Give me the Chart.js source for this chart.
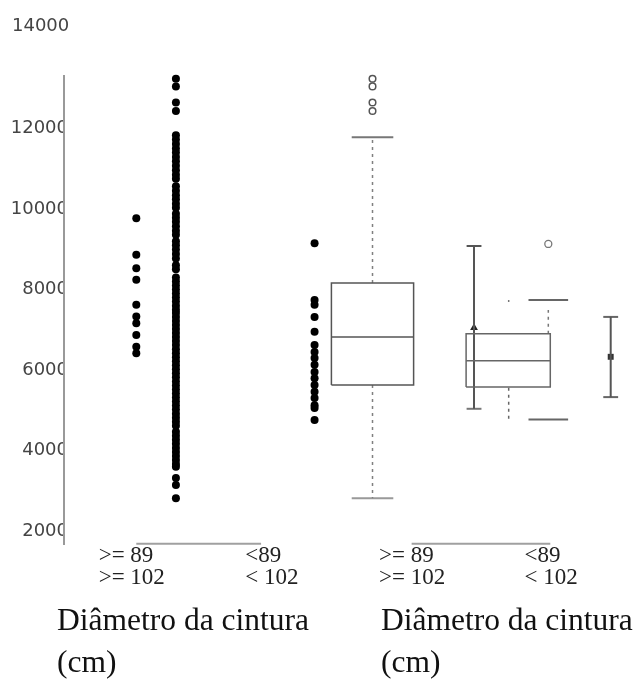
<!DOCTYPE html>
<html>
<head>
<meta charset="utf-8">
<script src="https://cdn.jsdelivr.net/npm/chart.js@4.4.0/dist/chart.umd.min.js"></script>
<style>
  html, body { margin: 0; padding: 0; background: #fff; }
  #wrap { width: 637px; height: 682px; position: relative; }
</style>
</head>
<body>
<div id="wrap"><canvas id="boxChart"></canvas></div>
<script>
// Axis text
const yTicks = [2000, 4000, 6000, 8000, 10000, 12000];
const topTickLabel = '14000';
const groupLabels = [['>= 89', '>= 102'], ['<89', '< 102'], ['>= 89', '>= 102'], ['<89', '< 102']];
const axisTitle = ['Diâmetro da cintura', '(cm)'];

// Left panel: raw values as dot strips
const stripA = [9770, 8860, 8530, 8240, 7620, 7330, 7160, 6870, 6580, 6420];
const stripB = [
  13230, 13040, 12640, 12430,
  11830, 11720, 11610, 11500, 11400, 11290, 11180, 11070, 10960, 10850, 10750,
  10560, 10450, 10340, 10240, 10130, 10030,
  9880, 9780, 9680, 9570, 9460, 9360,
  9200, 9100, 8990, 8880, 8770,
  8600, 8500,
  8300, 8200, 8100, 8000, 7900, 7800, 7700, 7600, 7500,
  7420, 7320, 7220, 7120, 7020, 6920, 6820, 6720, 6620, 6520, 6420, 6320,
  6220, 6120, 6020, 5920, 5820, 5720, 5620, 5520, 5420, 5320, 5220, 5120,
  5020, 4920, 4820, 4720, 4620,
  4470, 4370, 4270, 4170, 4070, 3970, 3870, 3770, 3670, 3600,
  3320, 3150, 2820
];
const stripC = [9150, 7740, 7620, 7320, 6950, 6620, 6450, 6300, 6130, 5950, 5800, 5630, 5460, 5310, 5130, 5060, 4760];

// Right panel: box summaries
const box1Stats = [2820, 5630, 6820, 8160, 11780]; // min, q1, median, q3, max
const box1Outliers = [13230, 13040, 12640, 12430];
const box2Stats = [5580, 6230, 6900]; // q1, median, q3
const box2Range = [5040, 9080];
const box2Mean = 7050;
const box2LowerTail = [5560, 4770];
const box2UpperTick = [7740, 7620];
const box2UpperTail = [6900, 7490];
const box2Fences = [7740, 4775];
const box2Outlier = 9130;
const errBar = [5330, 6330, 7320]; // low, mid, high

// positions along the (pixel-like) x scale
const stripX = [137, 177, 317];
const labelX = [99, 247, 382, 529];
const titleX = [57, 384];
const baseLines = [[137, 263], [415, 555]];
const baseY = 1690;
const axisLineX = 64;
const box1X = 375.5;
const box2X = 512.5;
const box2WhiskerX = 478;
const box2DashX = [513, 553];
const box2FenceX = [533, 573];
const errX = 616;

function seg(pts, color, width, dash) {
  return {
    type: 'line', data: pts, borderColor: color, borderWidth: width,
    borderDash: dash || [], pointRadius: 0, showLine: true, fill: false,
    clip: false, tension: 0, borderCapStyle: 'butt'
  };
}
function vline(x, y1, y2, color, width, dash) {
  return seg([{x: x, y: y1}, {x: x, y: y2}], color, width, dash);
}
function hline(x1, x2, y, color, width, dash) {
  return seg([{x: x1, y: y}, {x: x2, y: y}], color, width, dash);
}
function dots(x, values, opts) {
  return Object.assign({
    type: 'scatter', data: values.map(v => ({x: x, y: v})),
    pointRadius: 4, pointHoverRadius: 4, backgroundColor: '#000', borderWidth: 0, clip: false
  }, opts || {});
}

const datasets = [];
const boxColor = '#555';
const dashColor = '#808080';

// axis line + baselines
datasets.push(vline(axisLineX, 13323, 1660, '#999', 2));
baseLines.forEach(b => datasets.push(hline(b[0], b[1], baseY, '#a0a0a0', 2)));

// dot strips
datasets.push(dots(stripX[0], stripA));
datasets.push(dots(stripX[1], stripB));
datasets.push(dots(stripX[2], stripC));

// box 1
const b1 = box1Stats, bw1 = 41.5, cw1 = 21;
datasets.push(seg([
  {x: box1X - bw1, y: b1[1]}, {x: box1X + bw1, y: b1[1]},
  {x: box1X + bw1, y: b1[3]}, {x: box1X - bw1, y: b1[3]}, {x: box1X - bw1, y: b1[1]}
], boxColor, 1.5));
datasets.push(hline(box1X - bw1, box1X + bw1, b1[2], boxColor, 1.5));
datasets.push(vline(box1X, b1[3], b1[4], dashColor, 1.5, [3, 4]));
datasets.push(vline(box1X, b1[1], b1[0], dashColor, 1.5, [3, 4]));
datasets.push(hline(box1X - cw1, box1X + cw1, b1[4], '#777', 2));
datasets.push(hline(box1X - cw1, box1X + cw1, b1[0], '#999', 2));
datasets.push(dots(box1X, box1Outliers, {
  pointRadius: 3.3, backgroundColor: 'rgba(255,255,255,0)', borderColor: '#555', borderWidth: 1.5
}));

// box 2 and its odd extra pieces
const b2 = box2Stats, bw2 = 42.5;
datasets.push(seg([
  {x: box2X - bw2, y: b2[0]}, {x: box2X + bw2, y: b2[0]},
  {x: box2X + bw2, y: b2[2]}, {x: box2X - bw2, y: b2[2]}, {x: box2X - bw2, y: b2[0]}
], '#666', 1.5));
datasets.push(hline(box2X - bw2, box2X + bw2, b2[1], '#666', 1.5));
datasets.push(vline(box2WhiskerX, box2Range[0], box2Range[1], '#555', 2));
datasets.push(hline(box2WhiskerX - 7.5, box2WhiskerX + 7.5, box2Range[1], '#555', 2));
datasets.push(hline(box2WhiskerX - 7.5, box2WhiskerX + 7.5, box2Range[0], '#777', 2));
datasets.push(dots(box2WhiskerX, [box2Mean], {pointStyle: 'triangle', pointRadius: 4.5, backgroundColor: '#222'}));
datasets.push(vline(box2DashX[0], box2LowerTail[0], box2LowerTail[1], '#666', 1.5, [3, 4]));
datasets.push(vline(box2DashX[0], box2UpperTick[0], box2UpperTick[1], '#777', 1.5, [2, 3]));
datasets.push(vline(box2DashX[1], box2UpperTail[0], box2UpperTail[1], '#777', 1.5, [3, 4]));
box2Fences.forEach(v => datasets.push(hline(box2FenceX[0], box2FenceX[1], v, '#666', 2)));
datasets.push(dots(box2DashX[1], [box2Outlier], {
  pointRadius: 3.5, backgroundColor: '#fff', borderColor: '#777', borderWidth: 1.3
}));

// error bar
datasets.push(vline(errX, errBar[0], errBar[2], '#555', 2));
datasets.push(hline(errX - 7.5, errX + 7.5, errBar[2], '#666', 2));
datasets.push(hline(errX - 7.5, errX + 7.5, errBar[0], '#666', 2));
datasets.push(dots(errX, [errBar[1]], {pointStyle: 'rect', pointRadius: 4.2, backgroundColor: '#333'}));

const noPad = s => { s.paddingLeft = 0; s.paddingRight = 0; };

new Chart(document.getElementById('boxChart'), {
  type: 'scatter',
  data: { datasets: datasets },
  options: {
    responsive: true,
    maintainAspectRatio: false,
    animation: false,
    events: [],
    layout: { padding: { left: 12, right: 0, top: 0, bottom: 0 } },
    plugins: {
      legend: { display: false },
      tooltip: { enabled: false },
      title: {
        display: true, text: topTickLabel, align: 'start', color: '#444',
        font: { family: 'DejaVu Sans', size: 18, weight: 'normal', lineHeight: 1.2 },
        padding: { top: 16, bottom: 37.4 }
      }
    },
    scales: {
      y: {
        type: 'linear', min: 1660, max: 13323,
        afterBuildTicks: s => { s.ticks = yTicks.map(v => ({value: v})); },
        afterFit: s => { s.width = 52; },
        ticks: { callback: v => String(v), padding: -4, color: '#444',
                 font: { family: 'DejaVu Sans', size: 18 } },
        grid: { display: false, drawTicks: false },
        border: { display: false }
      },
      x: {
        type: 'linear', min: 64, max: 637, position: 'bottom', weight: 0,
        afterBuildTicks: s => { s.ticks = labelX.map(v => ({value: v})); },
        afterFit: s => { s.height = 44; noPad(s); },
        ticks: { callback: (v, i) => groupLabels[i], align: 'start', autoSkip: false,
                 maxRotation: 0, minRotation: 0, padding: 0, color: '#222',
                 font: { family: 'Liberation Serif', size: 23, lineHeight: 0.96 } },
        grid: { display: false, drawTicks: false },
        border: { display: false }
      },
      xt: {
        type: 'linear', min: 64, max: 637, position: 'bottom', weight: 1,
        afterBuildTicks: s => { s.ticks = titleX.map(v => ({value: v})); },
        afterFit: s => { s.height = 93; noPad(s); },
        ticks: { callback: () => axisTitle, align: 'start', autoSkip: false,
                 maxRotation: 0, minRotation: 0, padding: 12, color: '#111',
                 font: { family: 'Liberation Serif', size: 31.5, lineHeight: 1.33 } },
        grid: { display: false, drawTicks: false },
        border: { display: false }
      }
    }
  }
});
</script>
</body>
</html>
